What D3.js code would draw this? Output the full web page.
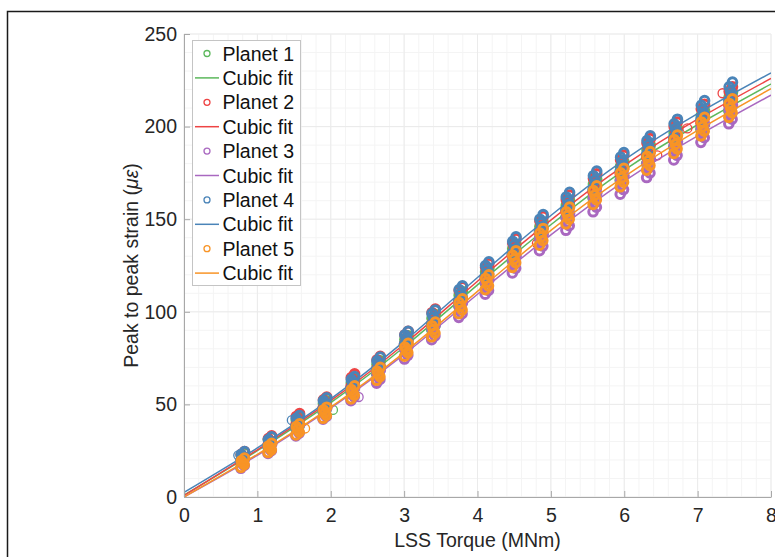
<!DOCTYPE html>
<html>
<head>
<meta charset="utf-8">
<script src="https://cdn.jsdelivr.net/npm/d3@7"></script>
<style>
  html, body { margin: 0; padding: 0; background: #fff; }
  svg { display: block; font-family: "Liberation Sans", Arial, Helvetica, sans-serif; }
</style>
</head>
<body>
<svg id="chart" width="775" height="557"></svg>
<script>
// Peak to peak strain vs LSS torque, five planets + cubic fits.

const TORQUE_BINS = [0.8, 1.17, 1.55, 1.92, 2.3, 2.65, 3.03, 3.4, 3.77, 4.13, 4.5, 4.87, 5.23, 5.6, 5.97, 6.33, 6.7, 7.07, 7.45];
const SAMPLE_DT = [-0.025, 0.02, 0, -0.02, 0.025];   // small torque spread inside a bin
const FIT_TORQUE = [0, 1, 2, 3, 4, 5, 6, 7, 8];
const X_TICKS = [0, 1, 2, 3, 4, 5, 6, 7, 8];
const Y_TICKS = [0, 50, 100, 150, 200, 250];
const PLANET_NAMES = ["Planet 1", "Planet 2", "Planet 3", "Planet 4", "Planet 5"];
const PLANET_COLORS = ["#5cb85c", "#ee4444", "#a968c0", "#4a84b8", "#f89426"];

const P1_STRAIN = [[19,20.5,21.5,22.5,24],[27.5,29,30,31,32.5],[37,38.5,40,41.5,43],[46,47.5,49,50.5,52],
  [56.5,58.5,60,61.5,63.5],[66.5,68.5,70,71.5,73.5],[80,82,83.5,85,87],[90.5,92.5,94.5,96.5,98.5],
  [103,105,107,109,111],[115.5,117.5,119.5,121.5,123.5],[127.5,130,132,134,136.5],[139.5,142,144,146,148.5],
  [151,153.5,155.5,157.5,160],[161.5,164,166.5,169,171.5],[171,173.5,176,178.5,181],[180,182.5,185,187.5,190],
  [189,191.5,194,196.5,199],[198.5,201,203.5,206,208.5],[208.5,211,213.5,216,218.5]];
const P2_STRAIN = [[19.5,21,22,23,24.5],[28,29.5,30.5,31.5,33],[39,40.5,42,43.5,45],[48,49.5,51,52.5,54],
  [59.5,61.5,63,64.5,66.5],[69,71,72.5,74,76],[82.5,84.5,86,87.5,89.5],[93.5,95.5,97.5,99.5,101.5],
  [105.5,107.5,109.5,111.5,113.5],[118,120,122,124,126],[130.5,133,135,137,139.5],[142.5,145,147,149,151.5],
  [154,156.5,158.5,160.5,163],[164.5,167,169.5,172,174.5],[174.5,177,179.5,182,184.5],[183.5,186,188.5,191,193.5],
  [192.5,195,197.5,200,202.5],[202,204.5,207,209.5,212],[211.5,214,216.5,219,221.5]];
const P3_STRAIN = [[15.5,17,18,19,20.5],[23.5,25,26,27,28.5],[33,34.5,36,37.5,39],[42,43.5,45,46.5,48],
  [52,54,55.5,57,59],[61.5,63.5,65,66.5,68.5],[74.5,76.5,78,79.5,81.5],[85,87,89,91,93],
  [97,99,101,103,105],[109.5,111.5,113.5,115.5,117.5],[121,123.5,125.5,127.5,130],[133,135.5,137.5,139.5,142],
  [144,146.5,148.5,150.5,153],[154,156.5,159,161.5,164],[163.5,166,168.5,171,173.5],[172.5,175,177.5,180,182.5],
  [182,184.5,187,189.5,192],[191.5,194,196.5,199,201.5],[201.5,204,206.5,209,211.5]];
const P4_STRAIN = [[19.5,21,22,23,24.5],[27,29,30,31,32.5],[38,39.5,41,42.5,44],[47.5,49,50.5,52,53.5],
  [58.5,60.5,62,63.5,65],[68.5,70.5,72,73.5,75.5],[82.5,84.5,86,87.5,89.5],[93,95,97,99,101],
  [106,108,110,112,114],[119,121,123,125,127],[131.5,134,136,138,140.5],[143.5,146,148,150,152.5],
  [155.5,158,160,162,164.5],[166,168.5,171,173.5,176],[176,178.5,181,183.5,186],[185,187.5,190,192.5,195],
  [194,196.5,199,201.5,204],[204,206.5,209,211.5,214],[214,216.5,219,221.5,224]];
const P5_STRAIN = [[16,17.5,18.5,19.5,21],[24,25.5,26.5,27.5,29],[33.5,35,36.5,38,39.5],[42.5,44,45.5,47,48.5],
  [53,55,56.5,58,60],[63,65,66.5,68,70],[76,78,79.5,81,83],[86.5,88.5,90.5,92.5,94.5],
  [99,101,103,105,107],[112,114,116,118,120],[124,126.5,128.5,130.5,133],[136,138.5,140.5,142.5,145],
  [147.5,150,152,154,156.5],[158,160.5,163,165.5,168],[167.5,170,172.5,175,177.5],[176.5,179,181.5,184,186.5],
  [185.5,188,190.5,193,195.5],[195,197.5,200,202.5,205],[205,207.5,210,212.5,215]];

// stray samples sitting off their cluster, [torque, strain]
const P1_OUTLIERS = [[2.03, 47]];
const P2_OUTLIERS = [[7.34, 218], [6.86, 199], [6.45, 184.5], [4.81, 137]];
const P3_OUTLIERS = [[2.38, 54]];
const P4_OUTLIERS = [[0.74, 22.5], [1.47, 41.5]];
const P5_OUTLIERS = [[1.65, 37]];

// cubic fit curves read at whole torque values
const P1_FIT = [1, 25, 51, 81, 114.5, 147, 176.5, 201, 223];
const P2_FIT = [0.8, 25.5, 52, 82.5, 116.5, 149.5, 179, 204, 226];
const P3_FIT = [0, 22.5, 48, 77, 109.5, 141.5, 170.5, 195, 217];
const P4_FIT = [2.5, 26.5, 53, 84, 118.5, 152, 182, 207, 229];
const P5_FIT = [0, 23, 48.5, 78, 111, 144, 173, 198, 220.5];

const STRAIN = [P1_STRAIN, P2_STRAIN, P3_STRAIN, P4_STRAIN, P5_STRAIN];
const OUTLIERS = [P1_OUTLIERS, P2_OUTLIERS, P3_OUTLIERS, P4_OUTLIERS, P5_OUTLIERS];
const FITS = [P1_FIT, P2_FIT, P3_FIT, P4_FIT, P5_FIT];

// ── layout ───────────────────────────────────────────────────────────────

const plot = { left: 184, right: 771, top: 34, bottom: 497 };
const svg = d3.select("#chart");

const x = d3.scaleLinear().domain([0, 8]).range([plot.left, plot.right]);
const y = d3.scaleLinear().domain([0, 250]).range([plot.bottom, plot.top]);

// outer frame, running off the right and bottom edges
svg.append("rect")
  .attr("x", 7.5).attr("y", 11.5).attr("width", 820).attr("height", 620)
  .attr("fill", "none").attr("stroke", "#1a1a1a").attr("stroke-width", 1.5);

// ── grid ────────────────────────────────────────────────────────────────

const grid = svg.append("g");
grid.selectAll("line.vminor").data(x.ticks(40)).join("line")
  .attr("x1", d => x(d)).attr("x2", d => x(d))
  .attr("y1", plot.top).attr("y2", plot.bottom)
  .attr("stroke", "#f4f4f4").attr("stroke-width", 1);
grid.selectAll("line.hminor").data(y.ticks(25)).join("line")
  .attr("x1", plot.left).attr("x2", plot.right)
  .attr("y1", d => y(d)).attr("y2", d => y(d))
  .attr("stroke", "#f4f4f4").attr("stroke-width", 1);
grid.selectAll("line.vmajor").data(X_TICKS).join("line")
  .attr("x1", d => x(d)).attr("x2", d => x(d))
  .attr("y1", plot.top).attr("y2", plot.bottom)
  .attr("stroke", "#ebebeb").attr("stroke-width", 1);
grid.selectAll("line.hmajor").data(Y_TICKS).join("line")
  .attr("x1", plot.left).attr("x2", plot.right)
  .attr("y1", d => y(d)).attr("y2", d => y(d))
  .attr("stroke", "#ebebeb").attr("stroke-width", 1);

// ── data ────────────────────────────────────────────────────────────────

svg.append("clipPath").attr("id", "clip").append("rect")
  .attr("x", plot.left).attr("y", plot.top)
  .attr("width", plot.right - plot.left).attr("height", plot.bottom - plot.top);

const line = d3.line()
  .x((d, i) => x(FIT_TORQUE[i]))
  .y(d => y(d))
  .curve(d3.curveNatural);

const dataLayer = svg.append("g").attr("clip-path", "url(#clip)");

PLANET_NAMES.forEach((name, p) => {
  const pts = [];
  STRAIN[p].forEach((vals, b) => {
    vals.forEach((v, k) => pts.push([TORQUE_BINS[b] + SAMPLE_DT[k], v]));
  });

  const g = dataLayer.append("g");
  // dense columns of samples – heavy rings so the column reads solid
  g.selectAll("circle.s").data(pts).join("circle")
    .attr("cx", d => x(d[0])).attr("cy", d => y(d[1]))
    .attr("r", 4.3)
    .attr("fill", "none")
    .attr("stroke", PLANET_COLORS[p])
    .attr("stroke-width", 3);
  g.selectAll("circle.o").data(OUTLIERS[p]).join("circle")
    .attr("cx", d => x(d[0])).attr("cy", d => y(d[1]))
    .attr("r", 4.5)
    .attr("fill", "none")
    .attr("stroke", PLANET_COLORS[p])
    .attr("stroke-width", 1.3);

  dataLayer.append("path")
    .datum(FITS[p])
    .attr("d", line)
    .attr("fill", "none")
    .attr("stroke", PLANET_COLORS[p])
    .attr("stroke-width", 1.5);
});

// ── axes ────────────────────────────────────────────────────────────────

const axisColor = "#a8a8a8";
const textColor = "#262626";

const xAxis = svg.append("g")
  .attr("transform", `translate(0,${plot.bottom})`)
  .call(d3.axisBottom(x).tickValues(X_TICKS).tickSizeInner(-6).tickSizeOuter(0).tickPadding(11));
const yAxis = svg.append("g")
  .attr("transform", `translate(${plot.left},0)`)
  .call(d3.axisLeft(y).tickValues(Y_TICKS).tickSizeInner(-6).tickSizeOuter(0).tickPadding(7));

for (const g of [xAxis, yAxis]) {
  g.select(".domain").attr("stroke", axisColor).attr("stroke-width", 1);
  g.selectAll(".tick line").attr("stroke", axisColor).attr("stroke-width", 1);
  g.selectAll(".tick text")
    .attr("fill", textColor)
    .style("font-size", "19.5px")
    .style("font-family", "'Liberation Sans', Arial, sans-serif");
}

svg.append("text")
  .attr("x", (plot.left + plot.right) / 2).attr("y", 547)
  .attr("text-anchor", "middle")
  .attr("fill", textColor)
  .style("font-size", "19.5px")
  .text("LSS Torque (MNm)");

const ylab = svg.append("text")
  .attr("transform", `translate(138,${(plot.top + plot.bottom) / 2}) rotate(-90)`)
  .attr("text-anchor", "middle")
  .attr("fill", textColor)
  .style("font-size", "19.5px");
ylab.append("tspan").text("Peak to peak strain (");
ylab.append("tspan").style("font-style", "italic").text("με");
ylab.append("tspan").text(")");

// ── legend ──────────────────────────────────────────────────────────────

const legend = svg.append("g");
legend.append("rect")
  .attr("x", 192.5).attr("y", 40.5).attr("width", 108).attr("height", 245)
  .attr("fill", "#fff").attr("stroke", "#c4c4c4").attr("stroke-width", 1);

const legendRows = PLANET_NAMES.flatMap((name, p) => [
  { kind: "marker", label: name, color: PLANET_COLORS[p] },
  { kind: "line", label: "Cubic fit", color: PLANET_COLORS[p] },
]);

const rowY = i => 53.5 + i * 24.4;
const rows = legend.selectAll("g.row").data(legendRows).join("g")
  .attr("transform", (d, i) => `translate(0,${rowY(i)})`);

rows.filter(d => d.kind === "marker").append("circle")
  .attr("cx", 207).attr("cy", 0).attr("r", 3)
  .attr("fill", "none").attr("stroke", d => d.color).attr("stroke-width", 1.3);
rows.filter(d => d.kind === "line").append("line")
  .attr("x1", 195).attr("x2", 219).attr("y1", 0).attr("y2", 0)
  .attr("stroke", d => d.color).attr("stroke-width", 1.5);
rows.append("text")
  .attr("x", 222.5).attr("y", 0).attr("dy", "0.36em")
  .attr("fill", "#111")
  .style("font-size", "19.5px")
  .text(d => d.label);
</script>
</body>
</html>
